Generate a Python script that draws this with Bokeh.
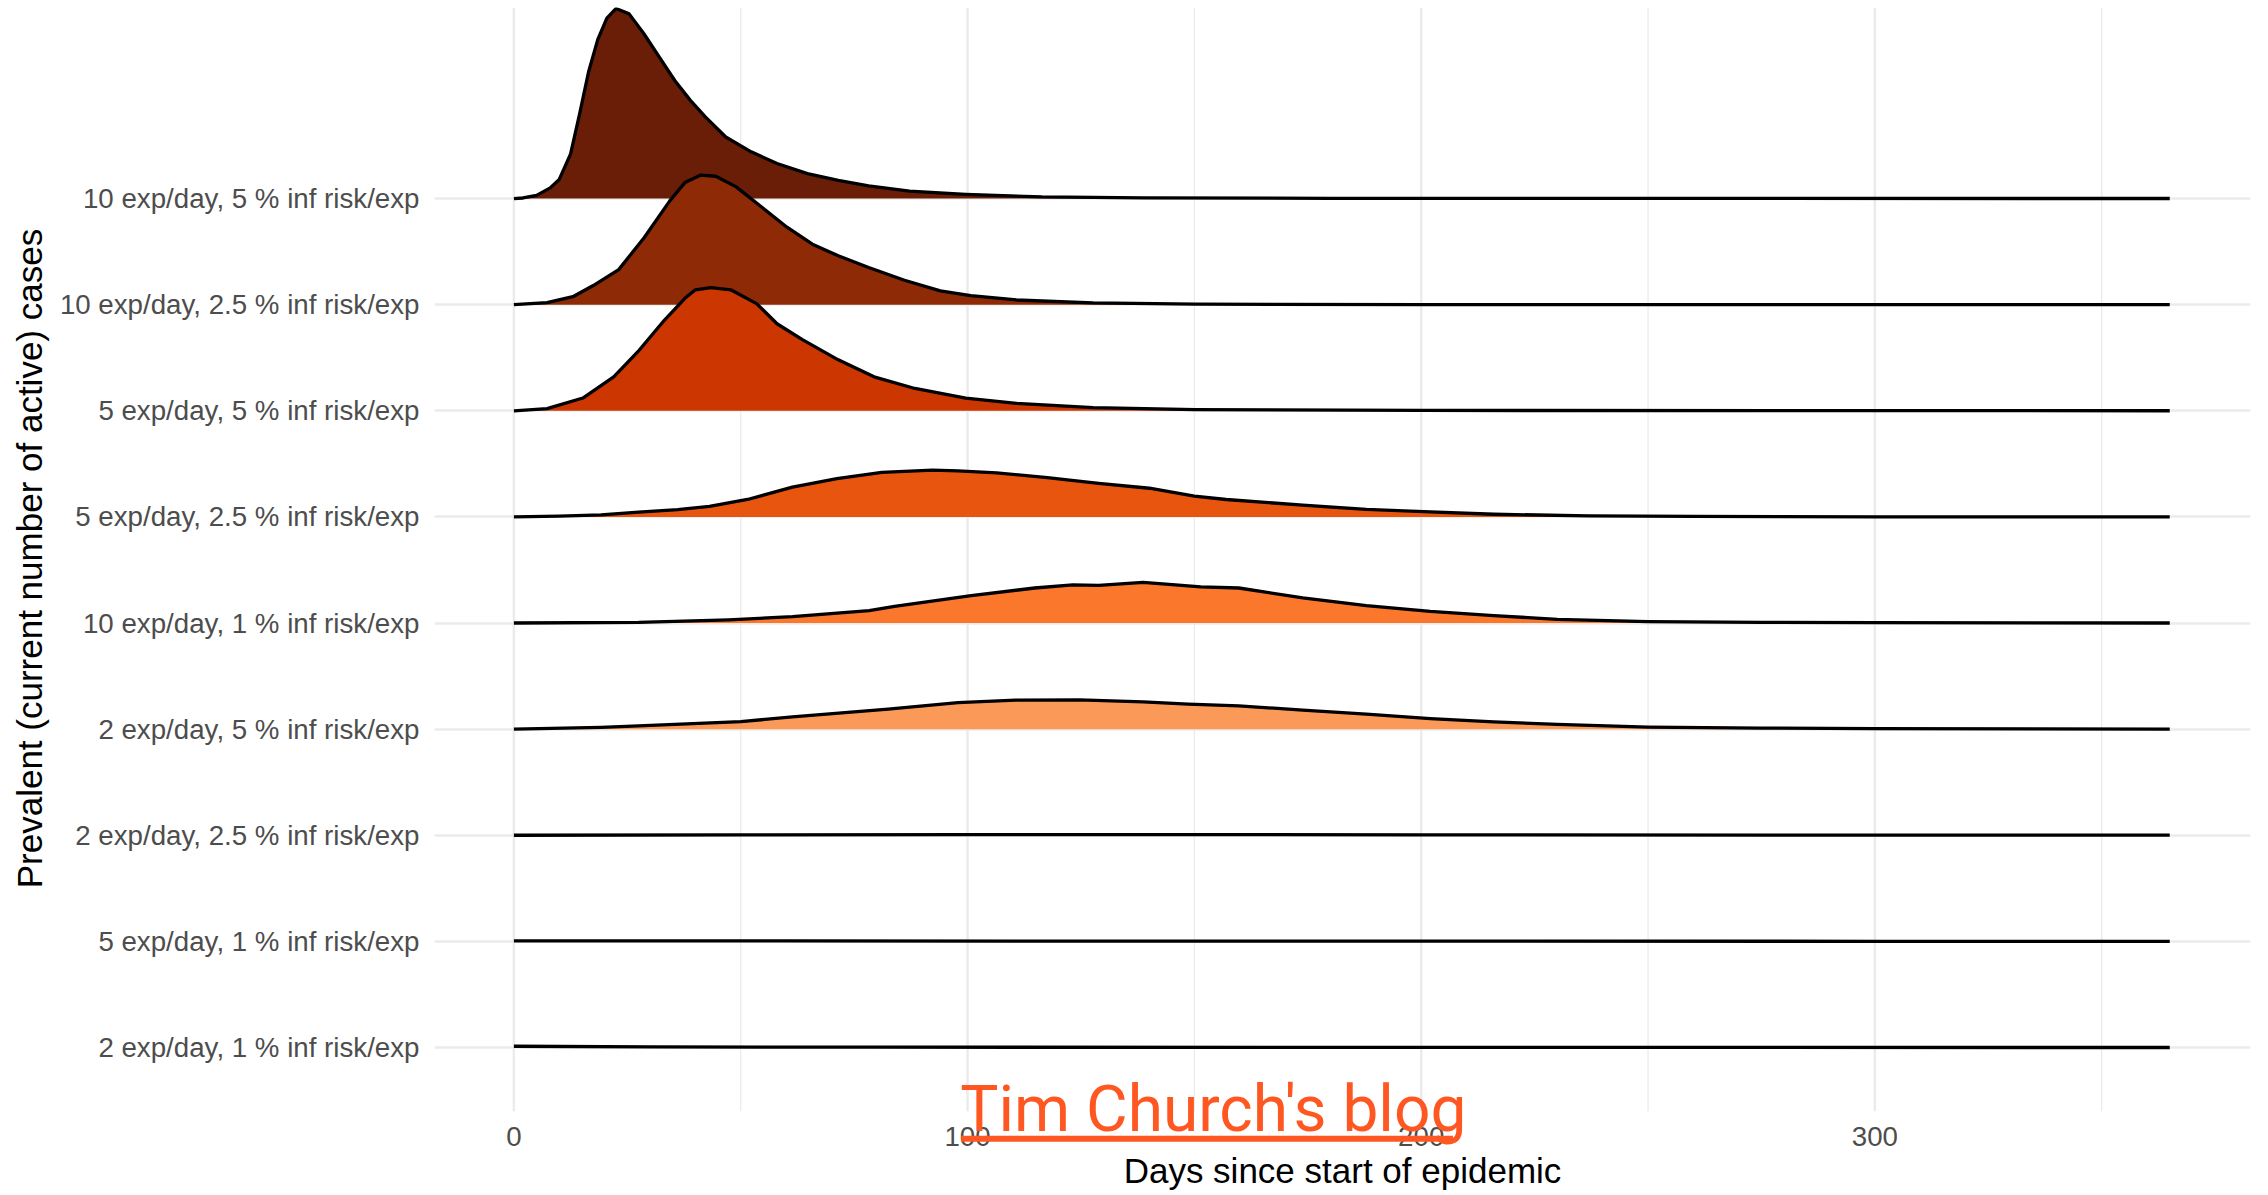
from bokeh.plotting import figure
from bokeh.models import Range1d, FixedTicker, ColumnDataSource, Label, BoxAnnotation
from bokeh.embed import file_html
from bokeh.resources import INLINE

# ---- data (ridge heights in ridge-spacing units) ----
categories = [
    "2 exp/day, 1 % inf risk/exp",
    "5 exp/day, 1 % inf risk/exp",
    "2 exp/day, 2.5 % inf risk/exp",
    "2 exp/day, 5 % inf risk/exp",
    "10 exp/day, 1 % inf risk/exp",
    "5 exp/day, 2.5 % inf risk/exp",
    "5 exp/day, 5 % inf risk/exp",
    "10 exp/day, 2.5 % inf risk/exp",
    "10 exp/day, 5 % inf risk/exp",
]
fill_colors = ["#FEEAD6", "#FDD3AC", "#FCB784", "#FB9A58", "#FA772B",
               "#E8550F", "#CC3600", "#8E2A06", "#6A1E08"]

days1 = [0, 30, 80, 200, 365]
prev1 = [0.012, 0.006, 0.003, 0.001, 0]

days2 = [0, 60, 120, 200, 300, 365]
prev2 = [0.004, 0.004, 0.003, 0.002, 0.001, 0]

days3 = [0, 50, 100, 140, 200, 280, 365]
prev3 = [0, 0.003, 0.006, 0.007, 0.004, 0.002, 0.001]

days4 = [0, 19.2, 27.5, 50, 61.4, 82.5, 97.9, 110.6, 124.7, 138.7, 148.6, 159.8,
         173.9, 187.9, 202, 216, 230, 250, 275, 300, 365]
prev4 = [0, 0.016, 0.03, 0.07, 0.116, 0.188, 0.25, 0.273, 0.275, 0.257, 0.235, 0.22,
         0.179, 0.141, 0.1, 0.069, 0.045, 0.02, 0.01, 0.004, 0]

days5 = [0, 27.5, 47.3, 61.4, 78.3, 83.9, 100.8, 114.8, 123.2, 128.9, 138.7, 145.8,
         151.4, 159.8, 173.9, 187.9, 202, 216, 230, 250, 275, 300, 365]
prev5 = [0, 0.006, 0.03, 0.06, 0.117, 0.157, 0.258, 0.33, 0.36, 0.355, 0.383, 0.36,
         0.34, 0.33, 0.236, 0.164, 0.11, 0.07, 0.035, 0.013, 0.006, 0.003, 0]

days6 = [0, 10, 19.2, 27.5, 36.1, 43.1, 51.5, 61.4, 71.2, 81.1, 92.3, 97.9, 106.4,
         117.6, 128.9, 140.1, 150, 157, 173.9, 187.9, 202, 216, 237, 260, 300, 365]
prev6 = [0, 0.008, 0.02, 0.045, 0.068, 0.1, 0.164, 0.28, 0.36, 0.42, 0.44, 0.434, 0.415,
         0.37, 0.315, 0.27, 0.195, 0.164, 0.11, 0.07, 0.047, 0.025, 0.01, 0.004, 0.001, 0]

days7 = [0, 7.3, 15.2, 22, 27.6, 33.2, 37.7, 40, 43.4, 47.8, 53.5, 58, 63.6, 71.5,
         79.4, 88.4, 99.6, 110.8, 127.7, 150.2, 200, 365]
prev7 = [0, 0.02, 0.12, 0.32, 0.57, 0.855, 1.06, 1.14, 1.16, 1.14, 1.01, 0.82, 0.67, 0.48,
         0.32, 0.21, 0.12, 0.07, 0.03, 0.01, 0.003, 0]

days8 = [0, 7.3, 13, 17.5, 23.1, 28.7, 34.4, 37.7, 41.1, 44.5, 49, 54.6, 60.2, 65.8,
         71.5, 78.2, 86.1, 94, 100.7, 110.8, 127.7, 150.2, 200, 365]
prev8 = [0, 0.02, 0.075, 0.18, 0.33, 0.63, 0.98, 1.15, 1.22, 1.21, 1.11, 0.92, 0.73, 0.57,
         0.46, 0.35, 0.23, 0.13, 0.085, 0.044, 0.016, 0.004, 0.001, 0]

days9 = [0, 2, 5, 8, 10, 12.5, 14.5, 16.5, 18.5, 20.5, 22.5, 25.4, 28.7, 32.1, 35.5,
         38.9, 42.2, 46.7, 52.3, 58, 64.7, 71.5, 78.2, 87.2, 99.6, 116.4, 138.9, 180, 250, 365]
prev9 = [0, 0.005, 0.03, 0.1, 0.18, 0.42, 0.8, 1.2, 1.5, 1.7, 1.79, 1.74, 1.55, 1.33, 1.11,
         0.925, 0.77, 0.58, 0.44, 0.33, 0.235, 0.17, 0.12, 0.07, 0.04, 0.015, 0.006, 0.002, 0.001, 0]

x_ticks = [0, 100, 200, 300]
x_minor_ticks = [50, 150, 250, 350]

series = [(days1, prev1), (days2, prev2), (days3, prev3), (days4, prev4), (days5, prev5),
          (days6, prev6), (days7, prev7), (days8, prev8), (days9, prev9)]

# ---- figure ----
W, H = 2268, 1195
Y_LO, Y_HI = 0.0485, 10.8     # frame extends below the panel so the watermark is visible
GRID_LO = 0.4                 # bottom of the visible panel
p = figure(width=W, height=H, output_backend="svg", toolbar_location=None,
           x_range=Range1d(-17.5, 382.8), y_range=Range1d(Y_LO, Y_HI),
           min_border_left=434, min_border_right=18, min_border_top=7, min_border_bottom=47)
p.outline_line_color = None
p.background_fill_color = "white"
p.border_fill_color = "white"

FONT = "Liberation Sans"

# axes
p.xaxis.ticker = FixedTicker(ticks=x_ticks, minor_ticks=x_minor_ticks)
p.yaxis.ticker = FixedTicker(ticks=list(range(1, len(categories) + 1)), minor_ticks=[])
p.yaxis.major_label_overrides = {i + 1: c for i, c in enumerate(categories)}
for ax in (p.xaxis[0], p.yaxis[0]):
    ax.axis_line_color = None
    ax.major_tick_line_color = None
    ax.minor_tick_line_color = None
    ax.major_tick_out = 0
    ax.major_tick_in = 0
    ax.minor_tick_out = 0
    ax.minor_tick_in = 0
    ax.major_label_text_font = FONT
    ax.major_label_text_font_size = "27.7px"
    ax.major_label_text_color = "#4D4D4D"
    ax.axis_label_text_font = FONT
    ax.axis_label_text_font_size = "35px"
    ax.axis_label_text_font_style = "normal"
    ax.axis_label_text_color = "black"

p.xaxis.axis_label = "Days since start of epidemic"
# leading no-break spaces re-centre the title on the visible panel (frame extends lower)
p.yaxis.axis_label = "\u00a0\u00a0\u00a0\u00a0Prevalent (current number of active) cases"
p.xaxis.major_label_standoff = -22
p.xaxis.axis_label_standoff = 2
p.yaxis.major_label_standoff = 15
p.yaxis.axis_label_standoff = 8

# grid: horizontal from the axis; vertical drawn only over the panel height
p.xgrid.grid_line_color = None
p.ygrid.grid_line_color = "#EBEBEB"
p.ygrid.grid_line_width = 2.5
p.segment(x0=x_ticks, x1=x_ticks, y0=[GRID_LO] * len(x_ticks), y1=[Y_HI] * len(x_ticks),
          line_color="#EBEBEB", line_width=2.5)
p.segment(x0=x_minor_ticks, x1=x_minor_ticks, y0=[GRID_LO] * len(x_minor_ticks),
          y1=[Y_HI] * len(x_minor_ticks), line_color="#EBEBEB", line_width=1.3)

# ridges: top first so lower ridges overlap upper ones
for i in range(len(categories) - 1, -1, -1):
    d, v = series[i]
    base = i + 1
    src = ColumnDataSource(dict(x=d, base=[base] * len(d), top=[base + h for h in v]))
    p.varea(x="x", y1="base", y2="top", source=src, fill_color=fill_colors[i], fill_alpha=1.0)
    p.line(x="x", y="top", source=src, line_color="black", line_width=3.3, line_join="round")

# watermark
wm_color = "#FF5722"
p.add_layout(Label(x=98.4, y=0.416, text="Tim Church's blog", text_font="Roboto",
                   text_font_size="64px", text_color=wm_color, text_baseline="alphabetic",
                   text_align="left"))
p.add_layout(BoxAnnotation(left=98.6, right=207.0, bottom=0.112, top=0.169,
                           fill_color=wm_color, fill_alpha=1.0, line_color=None))

open("out.html", "w").write(file_html(p, INLINE))
